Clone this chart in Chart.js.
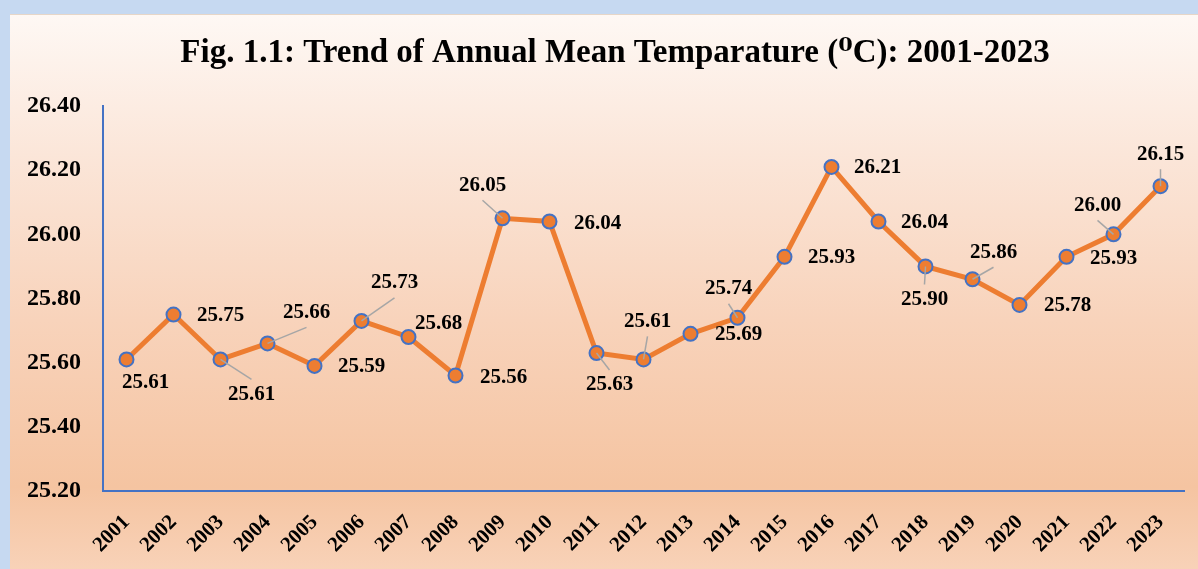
<!DOCTYPE html>
<html>
<head>
<meta charset="utf-8">
<script src="https://cdn.jsdelivr.net/npm/chart.js@4"></script>
<style>
  body { margin: 0; background: #c6d9f1; width: 1198px; height: 569px; overflow: hidden; }
  #panel {
    position: absolute; left: 10px; top: 14px; width: 1188px; height: 555px;
    border-top: 1px solid #e6d6c8;
    background: linear-gradient(to bottom, #fef8f4 0%, #fbe6d9 25%, #f8d3bb 55%, #f5c4a1 85%, #f8d2b8 100%);
  }
</style>
</head>
<body>
<div id="panel"><canvas id="myChart" width="1188" height="554"></canvas></div>
<script>
var years = ["2001", "2002", "2003", "2004", "2005", "2006", "2007", "2008", "2009", "2010", "2011", "2012",
             "2013", "2014", "2015", "2016", "2017", "2018", "2019", "2020", "2021", "2022", "2023"];
var meanTemp = [25.61, 25.75, 25.61, 25.66, 25.59, 25.73, 25.68, 25.56, 26.05, 26.04, 25.63, 25.61,
                25.69, 25.74, 25.93, 26.21, 26.04, 25.90, 25.86, 25.78, 25.93, 26.00, 26.15];
var yTicks = [25.20, 25.40, 25.60, 25.80, 26.00, 26.20, 26.40];
var chartTitle = "Fig. 1.1: Trend of Annual Mean Temparature (\u2070C): 2001-2023";

// where each value label sits relative to its point, and whether it gets a leader line
var labelPos = [
  [19, 23, 0], [47, 1, 0], [31, 35, 1], [39, -31, 1], [47, 1, 0], [33, -38, 1],
  [30, -13, 0], [48, 2, 0], [-20, -33, 1], [48, 2, 0], [13, 32, 1], [4, -38, 1],
  [48, 1, 0], [-9, -29, 1], [47, 1, 0], [46, 1, 0], [46, 1, 0], [-1, 33, 1],
  [21, -27, 1], [48, 1, 0], [47, 2, 0], [-16, -29, 1], [0, -32, 1]
];

var serif = "'Liberation Serif', 'DejaVu Serif', serif";

// title sits a little right of the canvas centre in the original
var titleText = {
  id: "titleText",
  afterDraw(chart) {
    let ctx = chart.ctx;
    ctx.save();
    ctx.font = "bold 33px " + serif;
    ctx.fillStyle = "#000";
    ctx.textAlign = "center";
    ctx.textBaseline = "middle";
    ctx.fillText(chartTitle, 605, 38);
    ctx.restore();
  }
};

var valueLabels = {
  id: "valueLabels",
  afterDatasetsDraw(chart) {
    let ctx = chart.ctx;
    let meta = chart.getDatasetMeta(0);
    ctx.save();
    ctx.font = "bold 21px " + serif;
    ctx.textAlign = "center";
    ctx.textBaseline = "middle";
    meta.data.forEach(function (pt, i) {
      let p = labelPos[i];
      let lx = pt.x + p[0], ly = pt.y + p[1];
      if (p[2]) {
        ctx.strokeStyle = "#a6a6a6";
        ctx.lineWidth = 1.5;
        ctx.beginPath();
        ctx.moveTo(pt.x, pt.y);
        ctx.lineTo(lx, ly + (p[1] < 0 ? 15 : -15));
        ctx.stroke();
      }
      ctx.fillStyle = "#000";
      ctx.fillText(meanTemp[i].toFixed(2), lx, ly);
    });
    ctx.restore();
  }
};

new Chart("myChart", {
  type: "line",
  data: {
    labels: years,
    datasets: [{
      data: meanTemp,
      borderColor: "#ed7d31",
      borderWidth: 5,
      pointBackgroundColor: "#ed7d31",
      pointBorderColor: "#4472c4",
      pointBorderWidth: 2,
      pointRadius: 7,
      tension: 0
    }]
  },
  plugins: [valueLabels, titleText],
  options: {
    responsive: false,
    animation: false,
    layout: { padding: { left: 0, right: 14, top: 91, bottom: 0 } },
    plugins: {
      legend: { display: false },
      tooltip: { enabled: false },
      title: { display: false }
    },
    scales: {
      x: {
        offset: true,
        grid: { display: false, drawTicks: false },
        border: { display: true, color: "#4472c4", width: 2 },
        ticks: {
          color: "#000",
          font: { family: serif, size: 21, weight: "bold" },
          minRotation: 45, maxRotation: 45,
          padding: 19
        },
        afterFit(s) { s.height = 78; }
      },
      y: {
        min: 25.2, max: 26.4,
        grid: { display: false, drawTicks: false },
        border: { display: true, color: "#4472c4", width: 2 },
        afterBuildTicks(s) { s.ticks = yTicks.map(v => ({ value: v })); },
        ticks: {
          color: "#000",
          font: { family: serif, size: 24, weight: "bold" },
          padding: 22,
          callback: v => Number(v).toFixed(2)
        },
        afterFit(s) { s.width = 93; }
      }
    }
  }
});
</script>
</body>
</html>
